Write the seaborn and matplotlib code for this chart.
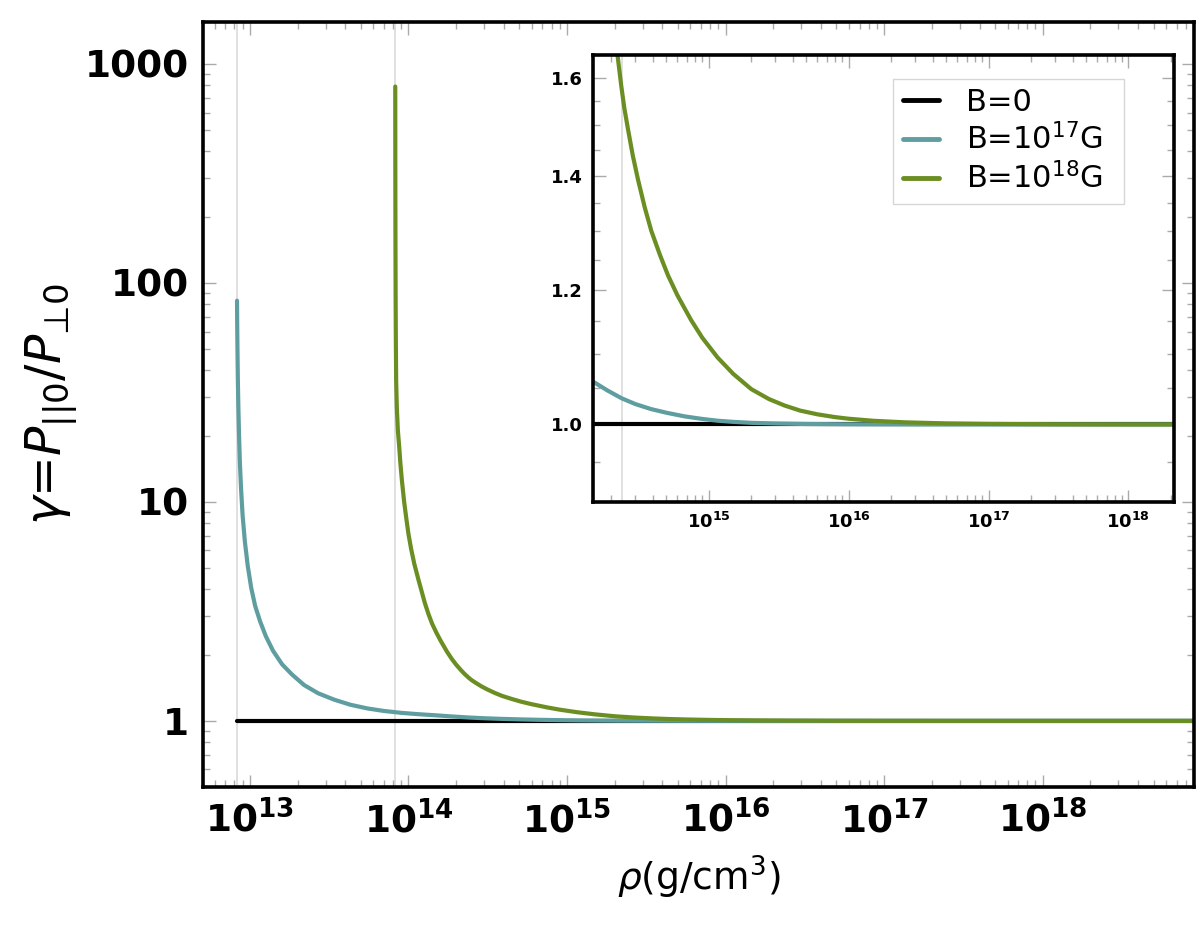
import matplotlib
matplotlib.use("Agg")
import matplotlib.pyplot as plt
import seaborn as sns
import numpy as np
import pandas as pd
from matplotlib.ticker import FixedLocator, NullFormatter, LogLocator

# ---------------- data ----------------
rho_b0 = [8.3e12, 9e18]
gamma_b0 = [1.0, 1.0]

rho_b17 = [8.30e12, 8.32e12, 8.35e12, 8.40e12, 8.46e12, 8.55e12, 8.65e12, 8.80e12,
           9.00e12, 9.30e12, 9.70e12, 1.02e13, 1.08e13, 1.16e13, 1.26e13, 1.40e13,
           1.60e13, 1.85e13, 2.20e13, 2.70e13, 3.40e13, 4.30e13, 5.50e13, 7.00e13,
           9.00e13, 1.15e14, 1.49e14, 1.90e14, 2.40e14, 3.00e14, 3.89e14, 5.00e14,
           6.74e14, 9.00e14, 1.17e15, 1.50e15, 2.02e15, 3.00e15, 5.00e15, 1.0e16,
           3.0e16, 1e17, 1e18, 9e18]
gamma_b17 = [83.0, 66.0, 51.0, 36.5, 27.5, 20.0, 15.2, 11.5,
             8.7, 6.6, 5.1, 4.05, 3.35, 2.85, 2.44, 2.09,
             1.81, 1.625, 1.457, 1.336, 1.25, 1.185, 1.14, 1.11,
             1.088, 1.073, 1.060, 1.047, 1.036, 1.028, 1.021, 1.016,
             1.011, 1.0075, 1.005, 1.0035, 1.0022, 1.0013, 1.0006, 1.0002,
             1.0, 1.0, 1.0, 1.0]

rho_b18 = [8.26e13, 8.27e13, 8.285e13, 8.305e13, 8.33e13, 8.37e13, 8.45e13, 8.58e13,
           8.75e13, 8.90e13, 9.10e13, 9.40e13, 9.70e13, 1.00e14, 1.04e14, 1.09e14,
           1.16e14, 1.27e14, 1.34e14, 1.41e14, 1.50e14, 1.60e14, 1.75e14, 1.88e14,
           2.00e14, 2.13e14, 2.25e14, 2.38e14, 2.50e14, 2.65e14, 2.88e14, 3.13e14,
           3.50e14, 3.90e14, 4.50e14, 5.13e14, 6.00e14, 7.50e14, 9.00e14, 1.16e15,
           1.50e15, 2.02e15, 2.70e15, 3.49e15, 4.50e15, 6.00e15, 8.00e15, 1.0e16,
           1.5e16, 2.5e16, 5.0e16, 1.0e17, 3.0e17, 1e18, 9e18]
gamma_b18 = [789, 300, 150, 85, 55, 35.8, 27.0, 21.2,
             17.8, 15.0, 12.5, 10.0, 8.4, 7.16, 6.1, 5.2,
             4.38, 3.45, 3.065, 2.78, 2.53, 2.316, 2.071, 1.915,
             1.806, 1.714, 1.643, 1.582, 1.536, 1.494, 1.439, 1.394,
             1.342, 1.300, 1.258, 1.224, 1.191, 1.152, 1.125, 1.095,
             1.071, 1.049, 1.035, 1.026, 1.019, 1.0138, 1.0100, 1.0078,
             1.0050, 1.0029, 1.0014, 1.0007, 1.0002, 1.0, 1.0]

series_labels = ["B=0", "B=10$^{17}$G  ", "B=10$^{18}$G  "]
series_colors = ["black", "#5F9EA0", "#6B8E23"]

main_guides = [8.3e12, 8.2e13]
inset_guides = [2.4e14]

main_xticks = [1e13, 1e14, 1e15, 1e16, 1e17, 1e18]
main_xticklabels = [r"$\mathbf{10^{13}}$", r"$\mathbf{10^{14}}$", r"$\mathbf{10^{15}}$",
                    r"$\mathbf{10^{16}}$", r"$\mathbf{10^{17}}$", r"$\mathbf{10^{18}}$"]
main_yticks = [1, 10, 100, 1000]
main_yticklabels = ["1", "10", "100", "1000"]

inset_xticks = [1e15, 1e16, 1e17, 1e18]
inset_xticklabels = [r"$\mathbf{10^{15}}$", r"$\mathbf{10^{16}}$",
                     r"$\mathbf{10^{17}}$", r"$\mathbf{10^{18}}$"]
inset_yticks = [1.0, 1.2, 1.4, 1.6]
inset_yticklabels = ["1.0", "1.2", "1.4", "1.6"]
inset_yminor = [0.9, 0.95, 1.05, 1.1, 1.15, 1.25, 1.3, 1.35, 1.45, 1.5, 1.55, 1.65]

# ---------------- style ----------------
sns.set_theme(style="ticks")
plt.rcParams["font.family"] = ["DejaVu Sans"]
plt.rcParams["mathtext.fontset"] = "dejavusans"
plt.rcParams["text.color"] = "black"
plt.rcParams["axes.labelcolor"] = "black"
plt.rcParams["xtick.labelcolor"] = "black"
plt.rcParams["ytick.labelcolor"] = "black"

fig = plt.figure(figsize=(12, 9.3), dpi=100)
ax = fig.add_axes([0.169, 0.154, 0.826, 0.822])
axi = fig.add_axes([0.494, 0.460, 0.484, 0.481])

series = [(rho_b0, gamma_b0), (rho_b17, gamma_b17), (rho_b18, gamma_b18)]


def draw(axis, guides):
    for g in guides:
        axis.axvline(g, color="#dddddd", lw=1.3, zorder=0)
    for (r, gm), lab, col in zip(series, series_labels, series_colors):
        df = pd.DataFrame({"rho": r, "gamma": gm})
        sns.lineplot(data=df, x="rho", y="gamma", ax=axis, color=col, lw=3.0,
                     label=lab, estimator=None, sort=False, legend=False)
    axis.set_xscale("log")
    axis.set_yscale("log")
    for s in axis.spines.values():
        s.set_linewidth(2.6)
        s.set_color("black")
    axis.tick_params(which="both", direction="in", top=True, right=True,
                     color="#aaaaaa", width=1)
    axis.tick_params(which="major", length=9)
    axis.tick_params(which="minor", length=5)


draw(ax, main_guides)
ax.set_xlim(5.05e12, 9.0e18)
ax.set_ylim(0.5, 1550)
ax.xaxis.set_major_locator(FixedLocator(main_xticks))
ax.set_xticklabels(main_xticklabels, fontsize=27)
ax.xaxis.set_minor_locator(LogLocator(base=10, subs=np.arange(2, 10), numticks=50))
ax.xaxis.set_minor_formatter(NullFormatter())
ax.yaxis.set_major_locator(FixedLocator(main_yticks))
ax.set_yticklabels(main_yticklabels, fontsize=27, fontweight="bold")
ax.yaxis.set_minor_locator(LogLocator(base=10, subs=np.arange(2, 10), numticks=50))
ax.yaxis.set_minor_formatter(NullFormatter())
ax.tick_params(which="major", pad=10)
ax.set_xlabel(r"$\rho$(g/cm$^3$)", fontsize=27, labelpad=10)
ax.set_ylabel("$\\gamma$=$P_{||0}/P_{\u22a50}$", fontsize=35, labelpad=4)

draw(axi, inset_guides)
axi.set_xlim(1.49e14, 2.1e18)
axi.set_ylim(0.9, 1.65)
axi.xaxis.set_major_locator(FixedLocator(inset_xticks))
axi.set_xticklabels(inset_xticklabels, fontsize=13)
axi.xaxis.set_minor_locator(LogLocator(base=10, subs=np.arange(2, 10), numticks=50))
axi.xaxis.set_minor_formatter(NullFormatter())
axi.yaxis.set_major_locator(FixedLocator(inset_yticks))
axi.set_yticklabels(inset_yticklabels, fontsize=13, fontweight="bold")
axi.yaxis.set_minor_locator(FixedLocator(inset_yminor))
axi.yaxis.set_minor_formatter(NullFormatter())
axi.tick_params(which="major", pad=7)
axi.set_xlabel("")
axi.set_ylabel("")

leg = axi.legend(loc="upper right", bbox_to_anchor=(0.914, 0.946), borderaxespad=0,
                 fontsize=22, frameon=True, fancybox=False, edgecolor="#cccccc",
                 handlelength=1.18, handletextpad=0.88, labelspacing=0.2,
                 borderpad=0.3)
leg.get_frame().set_linewidth(1.0)
for ln in leg.get_lines():
    ln.set_linewidth(3.5)

fig.savefig("out.png", dpi=100, facecolor="white")
